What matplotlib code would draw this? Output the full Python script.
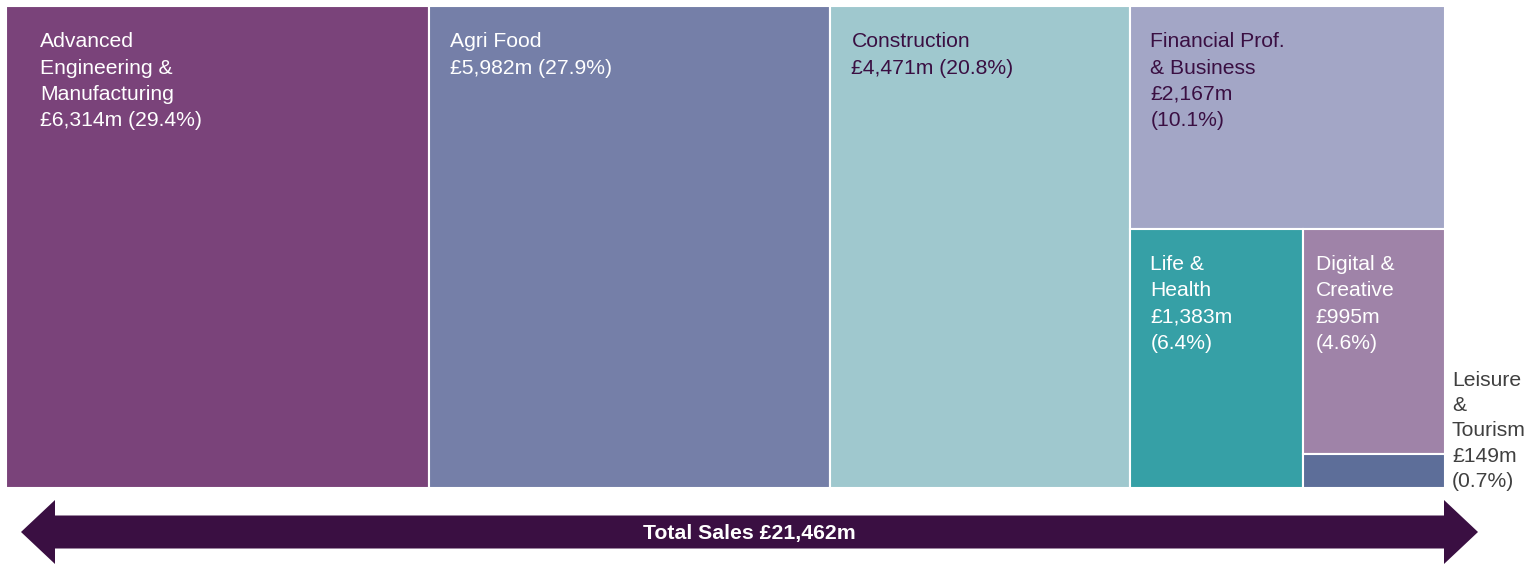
import matplotlib
matplotlib.use("Agg")
from matplotlib import pyplot as plt
from matplotlib.patches import Rectangle, Polygon

plt.rcParams['font.family'] = ['Liberation Sans', 'DejaVu Sans']

# data
sectors = ["Advanced\nEngineering &\nManufacturing", "Agri Food", "Construction",
           "Financial Prof.\n& Business", "Life &\nHealth", "Digital &\nCreative",
           "Leisure\n&\nTourism"]
sales = [6314, 5982, 4471, 2167, 1383, 995, 149]
pct = [29.4, 27.9, 20.8, 10.1, 6.4, 4.6, 0.7]
total_sales = 21462

colors = ['#7a437a', '#757fa8', '#9fc8ce', '#a3a6c6', '#36a0a6', '#9f83a8', '#5d6e99']
text_colors = ['white', 'white', '#3a0f42', '#3a0f42', 'white', 'white', '#404040']

fig = plt.figure(figsize=(15.29, 5.64), dpi=100)
ax = fig.add_axes([0, 0, 1, 1])
ax.set_xlim(0, 1529)
ax.set_ylim(564, 0)
ax.axis('off')

# treemap box (pixels)
x0, y0, W, H = 6, 6, 1439, 482
tot = float(sum(sales))

rects = []
# first three sectors: full-height columns
x = x0
for v in sales[:3]:
    w = W * v / tot
    rects.append((x, y0, w, H))
    x += w
# the rest in the last column
rest = sales[3:]
cw = W * sum(rest) / tot
fh = H * rest[0] / sum(rest)
rects.append((x, y0, cw, fh))
bh = H - fh
lw_ = cw * rest[1] / sum(rest[1:])
rects.append((x, y0 + fh, lw_, bh))
dw = cw - lw_
dh = bh * rest[2] / sum(rest[2:])
rects.append((x + lw_, y0 + fh, dw, dh))
rects.append((x + lw_, y0 + fh + dh, dw, bh - dh))

fs = 15.2
pads = [34, 21, 21, 20, 20, 13]
for i, (rx, ry, rw, rh) in enumerate(rects):
    ax.add_patch(Rectangle((rx, ry), rw, rh, facecolor=colors[i], edgecolor='white', linewidth=1.5))
    money = "£{:,}m".format(sales[i])
    if i < 3:
        label = "{}\n{} ({}%)".format(sectors[i], money, pct[i])
    else:
        label = "{}\n{}\n({}%)".format(sectors[i], money, pct[i])
    if i < 6:
        ax.text(rx + pads[i], ry + 26, label, color=text_colors[i], fontsize=fs,
                va='top', ha='left', linespacing=1.5)
    else:
        ax.text(rx + rw + 7, ry + rh + 3, label, color=text_colors[i], fontsize=fs,
                va='bottom', ha='left', linespacing=1.42)

# total arrow under the treemap
cy = 532
left = x0 + 15
right = x0 + W + 33
head = 34
ht, hh = 16.5, 32
pts = [(left, cy), (left + head, cy - hh), (left + head, cy - ht),
       (right - head, cy - ht), (right - head, cy - hh), (right, cy),
       (right - head, cy + hh), (right - head, cy + ht), (left + head, cy + ht),
       (left + head, cy + hh)]
ax.add_patch(Polygon(pts, closed=True, facecolor='#3a0f42', edgecolor='none'))
ax.text((left + right) / 2, cy + 1, "Total Sales £{:,}m".format(total_sales), color='white',
        fontsize=15.3, fontweight='bold', ha='center', va='center')

plt.savefig('out.png', dpi=100)
